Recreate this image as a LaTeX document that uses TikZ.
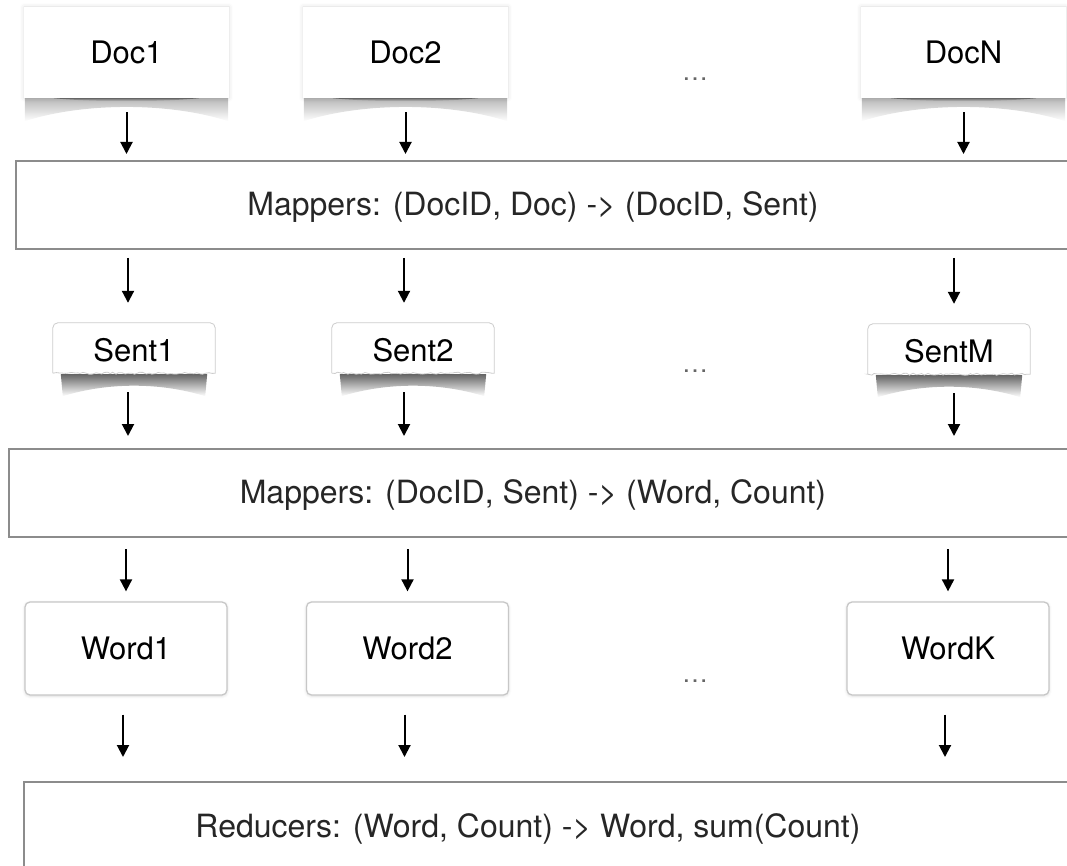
\documentclass[tikz,border=0pt]{standalone}
\usepackage{fontspec}
\setmainfont{TeX Gyre Heros}
\usetikzlibrary{arrows.meta,shadows.blur,decorations.pathmorphing,backgrounds}

\begin{document}
\begin{tikzpicture}[x=1pt,y=-1pt,
  lbl/.style={font=\fontsize{31}{36}\selectfont},
  docbox/.style={rectangle, fill=white, minimum width=205pt, minimum height=91pt,
    inner sep=0pt, lbl,
    blur shadow={shadow xshift=0pt, shadow yshift=0pt, shadow blur radius=4pt, shadow opacity=14}},
  sentnode/.style={rectangle, minimum width=162pt, minimum height=54pt, inner sep=0pt, lbl},
  wordbox/.style={rectangle, rounded corners=5pt, fill=white, draw=black!22, line width=1.3pt,
    minimum width=202pt, minimum height=93pt, inner sep=0pt, lbl,
    blur shadow={shadow xshift=0pt, shadow yshift=-1pt, shadow blur radius=3pt, shadow opacity=15}},
  mapbox/.style={rectangle, draw=black!45, line width=2pt, minimum width=1080pt,
    minimum height=88pt, inner sep=0pt},
  maptxt/.style={font=\fontsize{32}{38}\selectfont, text=black!85, inner sep=0pt},
  dots/.style={font=\fontsize{26}{30}\selectfont, text=black!60, inner sep=0pt},
  arr/.style={line width=2pt, -{Triangle[length=12pt,width=12pt]}},
  paper/.style={fill=white, draw=black!20, line width=0.8pt},
  tear/.style={decoration={random steps, segment length=3pt, amplitude=1pt}}
]
\pgfmathsetseed{7}
\useasboundingbox (0,0) rectangle (1067,866);
\clip (0,0) rectangle (1067,866);

% input documents
\node[docbox] (d1) at (126.5,52.5) {Doc1};
\node[docbox] (d2) at (405.5,52.5) {Doc2};
\node[docbox] (dN) at (963.5,52.5) {DocN};
\node[dots] (e1) at (695,79) {\ldots};

% first map stage
\node[mapbox] (m1) at (556,205) {};
\node[maptxt] (m1t) at (533,207) {Mappers: (DocID, Doc) -> (DocID, Sent)};

% sentences
\node[sentnode] (s1) at (134,350) {Sent1};
\node[sentnode] (s2) at (413,350) {Sent2};
\node[sentnode] (sM) at (949,351) {SentM};
\node[dots] (e2) at (695,371) {\ldots};

% second map stage
\node[mapbox] (m2) at (549,493) {};
\node[maptxt] (m2t) at (533,495) {Mappers: (DocID, Sent) -> (Word, Count)};

% words
\node[wordbox] (w1) at (126,648.5) {Word1};
\node[wordbox] (w2) at (407.5,648.5) {Word2};
\node[wordbox] (wK) at (948,648.5) {WordK};
\node[dots] (e3) at (695,681) {\ldots};

% reduce stage
\node[mapbox, minimum height=140pt] (r) at (564,852) {};
\node[maptxt] (rt) at (528,829) {Reducers: (Word, Count) -> Word, sum(Count)};

% arrows
\foreach \a in {d1,d2,dN}
  \draw[arr, shorten >=6pt] ([yshift=-14pt]\a.south) -- (\a.south |- m1.north);
\foreach \s/\dx in {s1/-6,s2/-9,sM/5}{
  \draw[arr, shorten >=20pt] ([xshift=\dx pt]\s.north |- m1.south) ++(0,8) -- ([xshift=\dx pt]\s.north);
  \draw[arr, shorten >=12pt] ([xshift=\dx pt,yshift=-15pt]\s.south) -- ([xshift=\dx pt]\s.south |- m2.north);
}
\foreach \w in {w1,w2,wK}{
  \draw[arr, shorten >=10pt] (\w.north |- m2.south) ++(0,11) -- (\w.north);
  \draw[arr, shorten >=24pt] ([xshift=-3pt,yshift=-19pt]\w.south) -- ([xshift=-3pt]\w.south |- r.north);
}

\begin{scope}[on background layer]
  % lifted-paper shadows under the documents: a broad soft curve and a thin dark band
  \foreach \a in {d1,d2,dN}{
    \shade[top color=black!28, bottom color=white]
      ([xshift=1pt]\a.south west) -- ([xshift=-1pt]\a.south east)
      -- ([xshift=-1pt,yshift=-23pt]\a.south east)
      .. controls ([xshift=-60pt,yshift=-4pt]\a.south east) and ([xshift=60pt,yshift=-4pt]\a.south west)
      .. ([xshift=1pt,yshift=-23pt]\a.south west) -- cycle;
    \shade[top color=black!55, bottom color=black!10]
      ([xshift=30pt]\a.south west) -- ([xshift=-30pt]\a.south east)
      .. controls ([xshift=-70pt,yshift=-4pt]\a.south east) and ([xshift=70pt,yshift=-4pt]\a.south west)
      .. ([xshift=30pt]\a.south west) -- cycle;
  }
  % torn paper slips for the sentences, with a curled shadow below
  \foreach \s in {s1,s2,sM}{
    \shade[top color=black!60, bottom color=white]
      ([xshift=8pt,yshift=3pt]\s.south west) -- ([xshift=-8pt,yshift=3pt]\s.south east)
      -- ([xshift=-10pt,yshift=-19pt]\s.south east)
      .. controls ([xshift=-55pt,yshift=-5pt]\s.south east) and ([xshift=55pt,yshift=-5pt]\s.south west)
      .. ([xshift=10pt,yshift=-19pt]\s.south west) -- cycle;
    \draw[paper]
      ([yshift=4pt]\s.south west) [rounded corners=5pt] -- (\s.north west) -- (\s.north east)
      [sharp corners] -- ([yshift=4pt]\s.south east)
      decorate[tear]{ -- ([yshift=4pt]\s.south west)} -- cycle;
  }
\end{scope}
\end{tikzpicture}
\end{document}
